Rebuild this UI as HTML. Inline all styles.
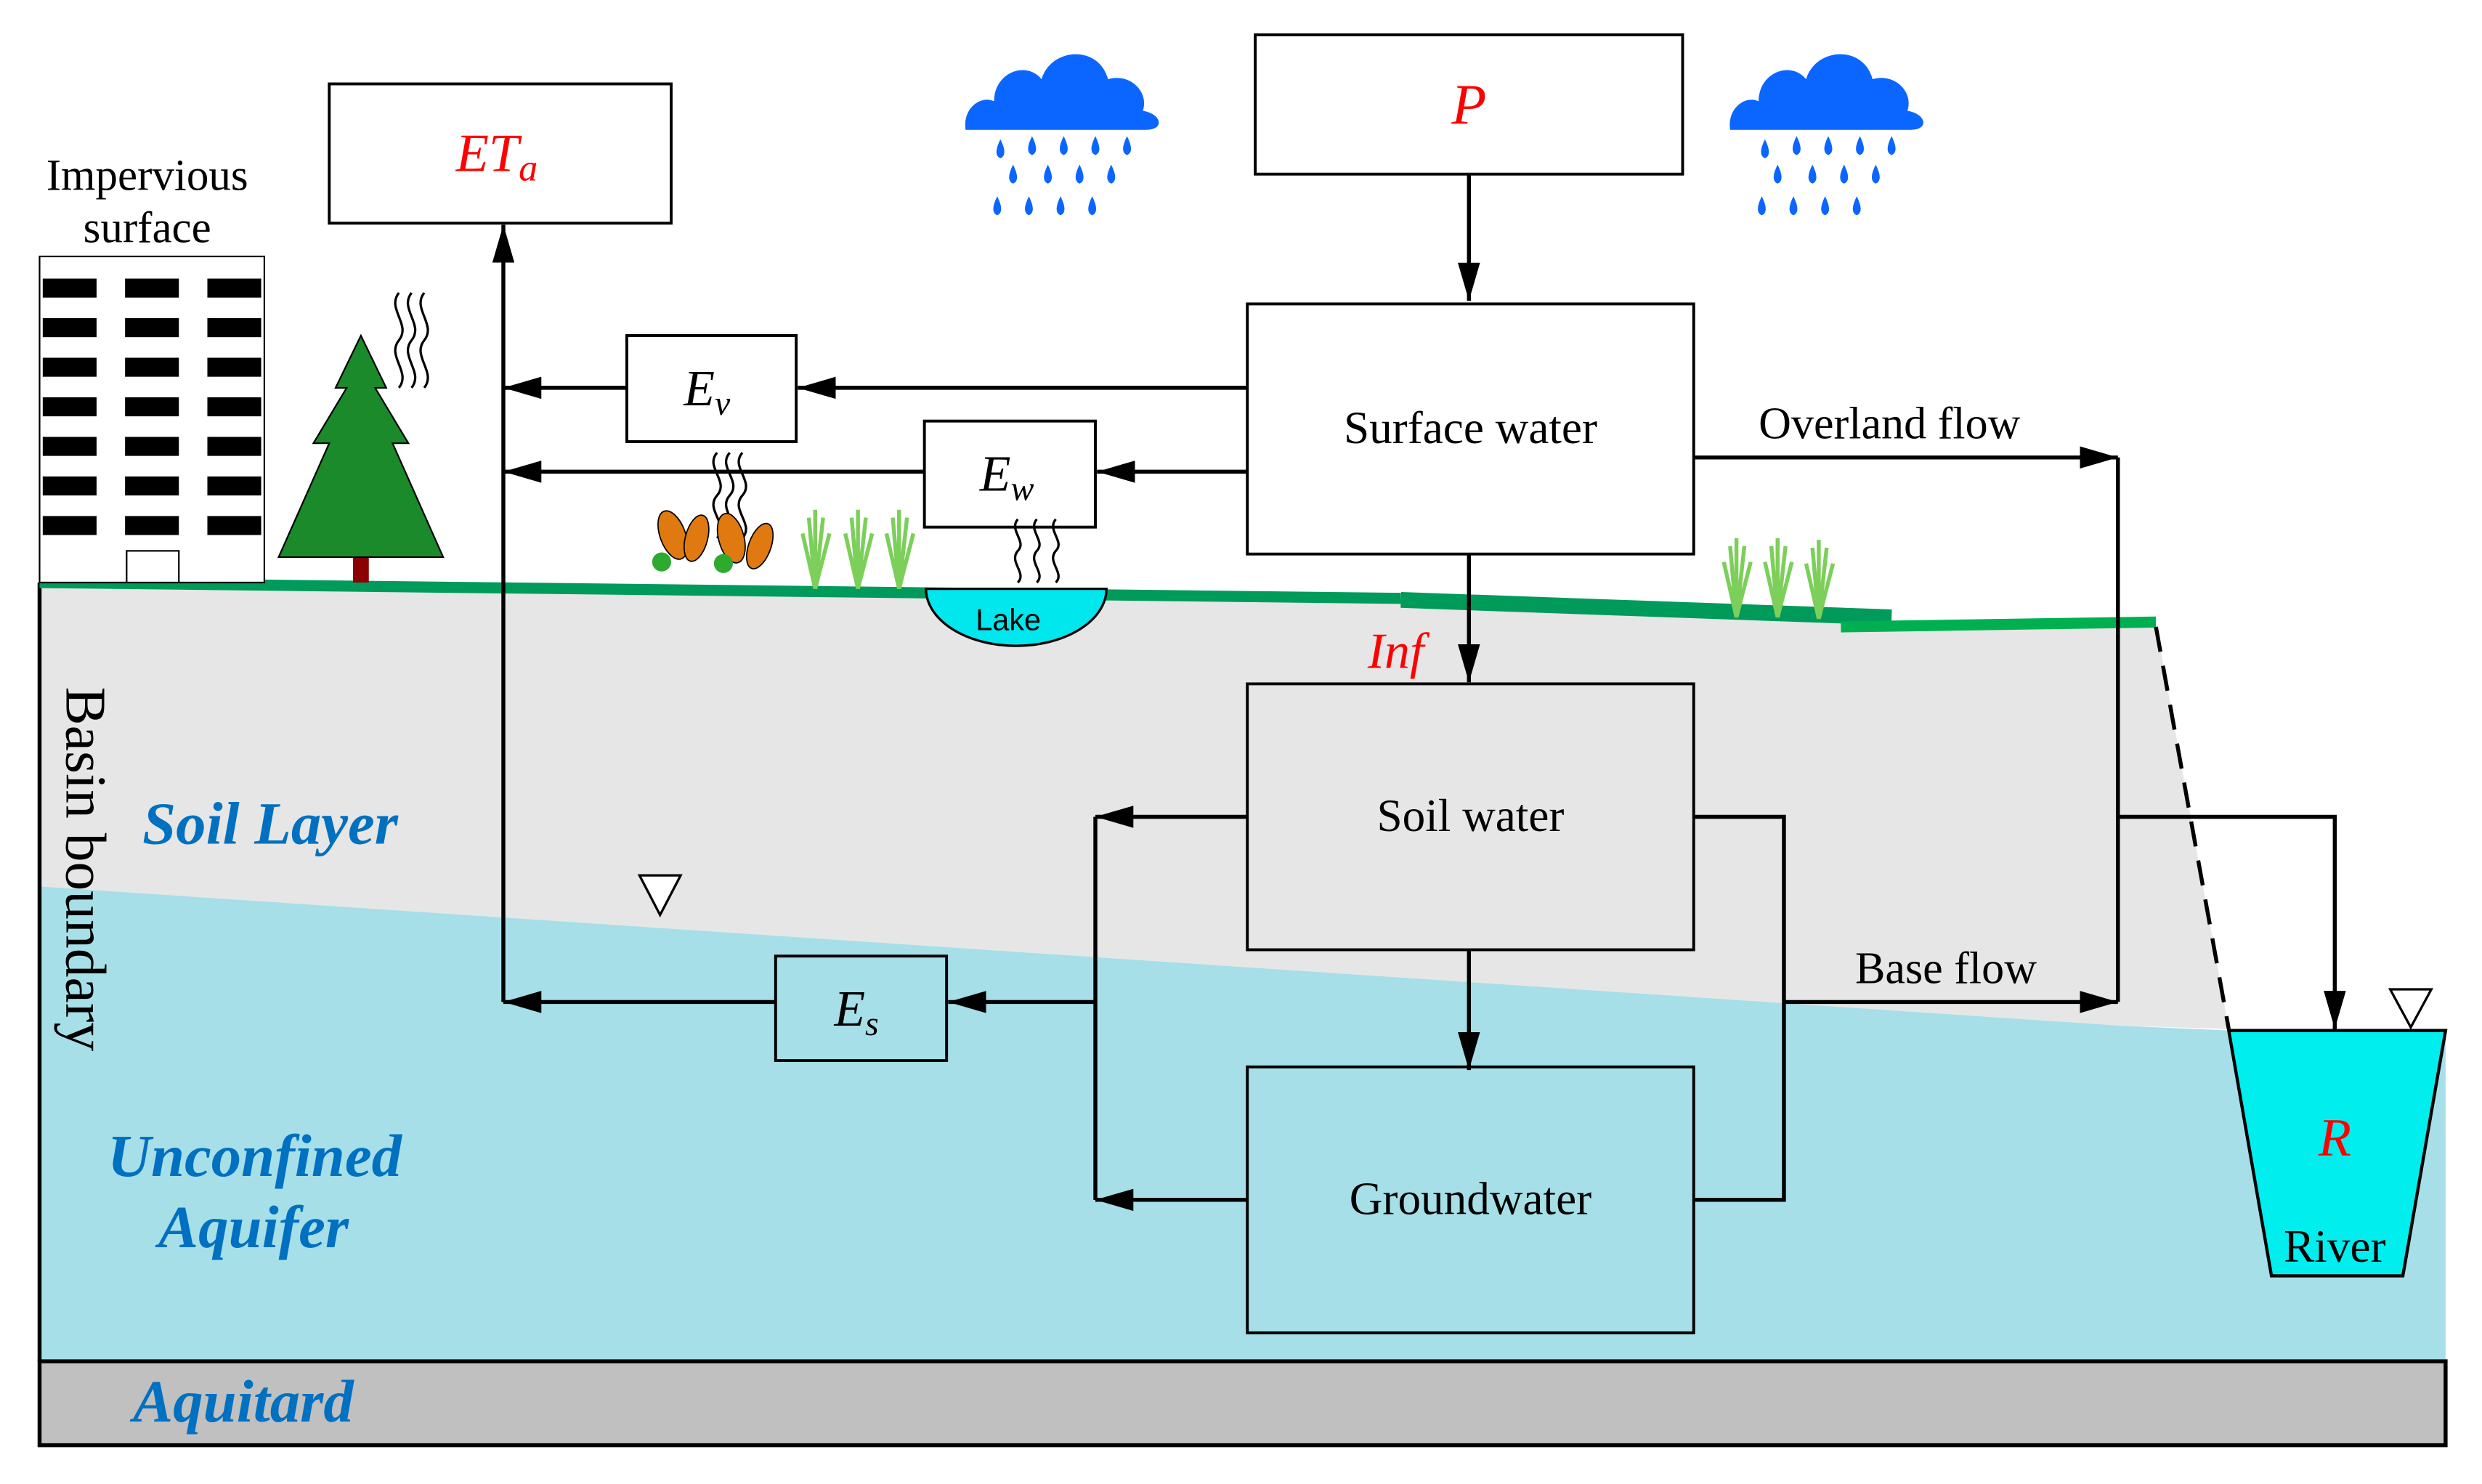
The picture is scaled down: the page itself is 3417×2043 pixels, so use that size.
<!DOCTYPE html>
<html><head><meta charset="utf-8"><style>
html,body{margin:0;padding:0;background:#fff;}
svg{display:block;}
text{font-family:"Liberation Serif",serif;}
</style></head><body>
<svg width="3417" height="2043" viewBox="0 0 1568 937.5" preserveAspectRatio="none" xmlns="http://www.w3.org/2000/svg">
<defs>
<marker id="arr" markerWidth="24" markerHeight="14" refX="24" refY="7" orient="auto" markerUnits="userSpaceOnUse"><path d="M0,0 L24,7 L0,14 z" fill="#000"/></marker>
</defs>
<rect width="1570" height="940" fill="#fff"/>
<polygon points="25,368 885,378 1195,392 1362,394 1408,650 1340,648 25,560" fill="#e6e6e6"/>
<polygon points="25,560 1340,648 1408,651 1545,651 1545,860 25,860" fill="#a6dfe8"/>
<rect x="25" y="860" width="1520" height="53" fill="#c0c0c0" stroke="#000" stroke-width="2.5"/>
<line x1="25" y1="368" x2="25" y2="860" stroke="#000" stroke-width="2.5"/>
<polyline points="25,368 885,378" stroke="#009a5a" stroke-width="7" fill="none"/>
<polyline points="885,379 1195,390" stroke="#009a5a" stroke-width="10" fill="none"/>
<polyline points="1163,396 1362,393" stroke="#00b050" stroke-width="7" fill="none"/>
<line x1="1362" y1="396" x2="1408" y2="650" stroke="#000" stroke-width="2.5" stroke-dasharray="16,9"/>
<path d="M585,372 A57,36 0 0 0 699,372 Z" fill="#00e8ee" stroke="#000" stroke-width="1.5"/>
<text x="637" y="398" font-size="19" text-anchor="middle" style="font-family:'Liberation Sans',sans-serif">Lake</text>
<polygon points="1408,651 1545,651 1518,806 1435,806" fill="#00eeee" stroke="#000" stroke-width="2"/>
<text x="1475" y="730" font-size="34" font-style="italic" fill="#f00" text-anchor="middle">R</text>
<text x="1475" y="797" font-size="29" text-anchor="middle">River</text>
<polygon points="404,553 430,553 417,578" fill="#fff" stroke="#000" stroke-width="1.5"/>
<polygon points="1510,625 1536,625 1523,649" fill="#fff" stroke="#000" stroke-width="1.5"/>
<g fill="#fff" stroke="#000" stroke-width="1.8">
<rect x="793" y="22" width="270" height="88"/>
<rect x="208" y="53" width="216" height="88"/>
<rect x="788" y="192" width="282" height="158"/>
<rect x="396" y="212" width="107" height="67"/>
<rect x="584" y="266" width="108" height="67"/>
<rect x="788" y="432" width="282" height="168" fill="none"/>
<rect x="788" y="674" width="282" height="168" fill="none"/>
<rect x="490" y="604" width="108" height="66" fill="none"/>
</g>
<text x="928" y="78" font-size="36" font-style="italic" fill="#f00" text-anchor="middle">P</text>
<text x="288" y="108" font-size="34" font-style="italic" fill="#f00">ET<tspan font-size="24" dy="6">a</tspan></text>
<text x="929" y="280" font-size="29" text-anchor="middle">Surface water</text>
<text x="929" y="525" font-size="29" text-anchor="middle">Soil water</text>
<text x="929" y="767" font-size="29" text-anchor="middle">Groundwater</text>
<text x="432" y="256" font-size="32" font-style="italic">E<tspan font-size="22" dy="6">v</tspan></text>
<text x="619" y="310" font-size="32" font-style="italic">E<tspan font-size="22" dy="6">w</tspan></text>
<text x="527" y="648" font-size="32" font-style="italic">E<tspan font-size="22" dy="6">s</tspan></text>
<text x="864" y="422" font-size="32" font-style="italic" fill="#f00">Inf</text>
<text x="1111" y="277" font-size="28.5">Overland flow</text>
<text x="1172" y="621" font-size="28.5">Base flow</text>
<g stroke="#000" stroke-width="2.5" fill="none">
<line x1="928" y1="110" x2="928" y2="190" marker-end="url(#arr)"/>
<line x1="788" y1="245" x2="504" y2="245" marker-end="url(#arr)"/>
<line x1="396" y1="245" x2="318" y2="245" marker-end="url(#arr)"/>
<line x1="788" y1="298" x2="693" y2="298" marker-end="url(#arr)"/>
<line x1="584" y1="298" x2="318" y2="298" marker-end="url(#arr)"/>
<line x1="318" y1="633" x2="318" y2="142" marker-end="url(#arr)"/>
<line x1="490" y1="633" x2="318" y2="633" marker-end="url(#arr)"/>
<line x1="928" y1="350" x2="928" y2="431" marker-end="url(#arr)"/>
<line x1="928" y1="600" x2="928" y2="676" marker-end="url(#arr)"/>
<line x1="788" y1="516" x2="692" y2="516" marker-end="url(#arr)"/>
<line x1="788" y1="758" x2="692" y2="758" marker-end="url(#arr)"/>
<line x1="692" y1="516" x2="692" y2="758"/>
<line x1="692" y1="633" x2="599" y2="633" marker-end="url(#arr)"/>
<polyline points="1070,516 1127,516 1127,758 1070,758"/>
<line x1="1127" y1="633" x2="1338" y2="633" marker-end="url(#arr)"/>
<line x1="1070" y1="289" x2="1338" y2="289" marker-end="url(#arr)"/>
<line x1="1338" y1="289" x2="1338" y2="633"/>
<polyline points="1338,516 1475,516 1475,650" marker-end="url(#arr)"/>
</g>
<g font-size="38" font-weight="bold" font-style="italic" fill="#0070c0">
<text x="90" y="533">Soil Layer</text>
<text x="68" y="743">Unconfined</text>
<text x="100" y="788">Aquifer</text>
<text x="84" y="898">Aquitard</text>
</g>
<text transform="translate(42,549) rotate(90)" font-size="36.5" text-anchor="middle">Basin boundary</text>
<text x="93" y="120" font-size="28" text-anchor="middle">Impervious</text>
<text x="93" y="153" font-size="28" text-anchor="middle">surface</text>
<rect x="25" y="162" width="142" height="206" fill="#fff" stroke="#000" stroke-width="1"/>
<g fill="#000">
<rect x="27" y="176" width="34" height="12"/><rect x="79" y="176" width="34" height="12"/><rect x="131" y="176" width="34" height="12"/>
<rect x="27" y="201" width="34" height="12"/><rect x="79" y="201" width="34" height="12"/><rect x="131" y="201" width="34" height="12"/>
<rect x="27" y="226" width="34" height="12"/><rect x="79" y="226" width="34" height="12"/><rect x="131" y="226" width="34" height="12"/>
<rect x="27" y="251" width="34" height="12"/><rect x="79" y="251" width="34" height="12"/><rect x="131" y="251" width="34" height="12"/>
<rect x="27" y="276" width="34" height="12"/><rect x="79" y="276" width="34" height="12"/><rect x="131" y="276" width="34" height="12"/>
<rect x="27" y="301" width="34" height="12"/><rect x="79" y="301" width="34" height="12"/><rect x="131" y="301" width="34" height="12"/>
<rect x="27" y="326" width="34" height="12"/><rect x="79" y="326" width="34" height="12"/><rect x="131" y="326" width="34" height="12"/>
</g>
<rect x="80" y="348" width="33" height="20" fill="#fff" stroke="#000" stroke-width="1"/>
<rect x="223" y="325" width="10" height="43" fill="#8b0000"/>
<polygon points="228,212 244,245 237,245 258,280 248,280 280,352 176,352 208,280 198,280 219,245 212,245" fill="#1a8a2a" stroke="#000" stroke-width="1"/>
<g stroke="#000" stroke-width="1.5" fill="none">
<path d="M252,245 c8,-10 -8,-20 0,-30 c8,-10 -8,-20 0,-30"/>
<path d="M260,245 c8,-10 -8,-20 0,-30 c8,-10 -8,-20 0,-30"/>
<path d="M268,245 c8,-10 -8,-20 0,-30 c8,-10 -8,-20 0,-30"/>
<path d="M453,340 c8,-9 -8,-18 0,-27 c8,-9 -8,-18 0,-27"/>
<path d="M461,340 c8,-9 -8,-18 0,-27 c8,-9 -8,-18 0,-27"/>
<path d="M469,340 c8,-9 -8,-18 0,-27 c8,-9 -8,-18 0,-27"/>
<path d="M643,368 c6,-6 -6,-13 0,-20 c6,-6 -6,-13 0,-20"/>
<path d="M655,368 c6,-6 -6,-13 0,-20 c6,-6 -6,-13 0,-20"/>
<path d="M667,368 c6,-6 -6,-13 0,-20 c6,-6 -6,-13 0,-20"/>
</g>
<g fill="#e07a10" stroke="#000" stroke-width="0.8">
<ellipse cx="425" cy="338" rx="8" ry="16" transform="rotate(-20 425 338)"/>
<ellipse cx="440" cy="340" rx="7" ry="15" transform="rotate(15 440 340)"/>
<ellipse cx="462" cy="340" rx="8" ry="16" transform="rotate(-15 462 340)"/>
<ellipse cx="480" cy="345" rx="7" ry="15" transform="rotate(20 480 345)"/>
</g>
<g fill="#2eaa2e"><circle cx="418" cy="355" r="6"/><circle cx="457" cy="356" r="6"/></g>
<g stroke="#7ccf5a" stroke-width="2.5" fill="none">
<path d="M515,372 l-4,-45 M515,372 l0,-50 M515,372 l5,-45 M515,372 l-8,-35 M515,372 l9,-35"/>
<path d="M542,372 l-4,-45 M542,372 l0,-50 M542,372 l5,-45 M542,372 l-8,-35 M542,372 l9,-35"/>
<path d="M568,372 l-4,-45 M568,372 l0,-50 M568,372 l5,-45 M568,372 l-8,-35 M568,372 l9,-35"/>
<path d="M1097,390 l-4,-45 M1097,390 l0,-50 M1097,390 l5,-45 M1097,390 l-8,-35 M1097,390 l9,-35"/>
<path d="M1123,390 l-4,-45 M1123,390 l0,-50 M1123,390 l5,-45 M1123,390 l-8,-35 M1123,390 l9,-35"/>
<path d="M1149,391 l-4,-45 M1149,391 l0,-50 M1149,391 l5,-45 M1149,391 l-8,-35 M1149,391 l9,-35"/>
</g>
<g fill="#0a66ff">
<g transform="translate(610,28)">
<path d="M0,54 c-2,-14 10,-22 18,-18 c0,-18 20,-26 30,-14 c6,-20 36,-22 42,0 c14,-4 26,8 22,20 c12,2 14,12 2,12 z"/>
</g>
<g transform="translate(1093,28)">
<path d="M0,54 c-2,-14 10,-22 18,-18 c0,-18 20,-26 30,-14 c6,-20 36,-22 42,0 c14,-4 26,8 22,20 c12,2 14,12 2,12 z"/>
</g>
</g>
<g fill="#0a66ff" id="drops">
<path d="M632,88 q-5,10 0,12 q5,-2 0,-12z"/><path d="M652,86 q-5,10 0,12 q5,-2 0,-12z"/><path d="M672,86 q-5,10 0,12 q5,-2 0,-12z"/><path d="M692,86 q-5,10 0,12 q5,-2 0,-12z"/><path d="M712,86 q-5,10 0,12 q5,-2 0,-12z"/>
<path d="M640,104 q-5,10 0,12 q5,-2 0,-12z"/><path d="M662,104 q-5,10 0,12 q5,-2 0,-12z"/><path d="M682,104 q-5,10 0,12 q5,-2 0,-12z"/><path d="M702,104 q-5,10 0,12 q5,-2 0,-12z"/>
<path d="M630,124 q-5,10 0,12 q5,-2 0,-12z"/><path d="M650,124 q-5,10 0,12 q5,-2 0,-12z"/><path d="M670,124 q-5,10 0,12 q5,-2 0,-12z"/><path d="M690,124 q-5,10 0,12 q5,-2 0,-12z"/>
</g>
<use href="#drops" transform="translate(483,0)"/>
</svg>
</body></html>
